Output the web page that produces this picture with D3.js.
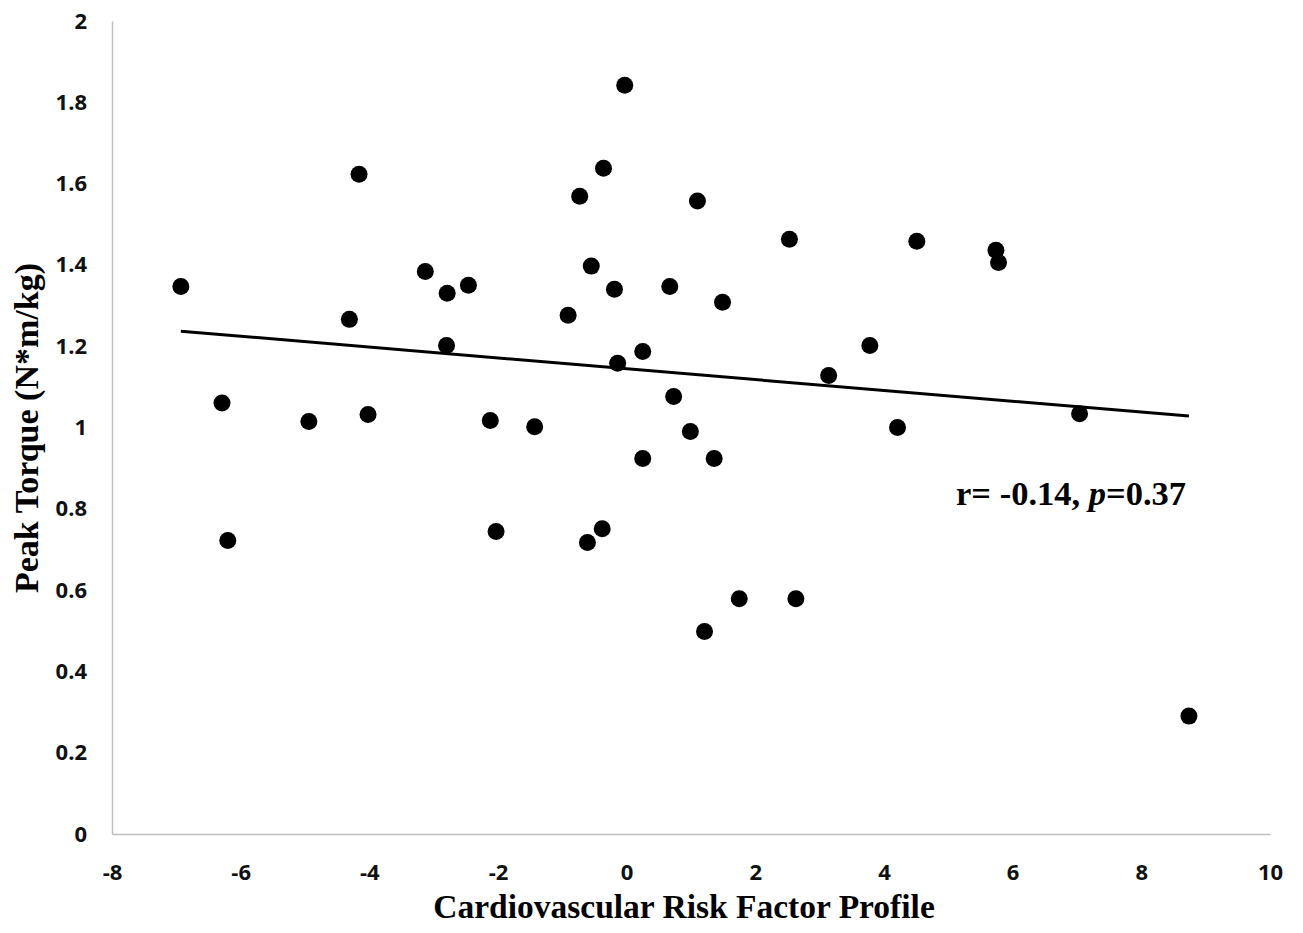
<!DOCTYPE html>
<html>
<head>
<meta charset="utf-8">
<script src="https://cdn.jsdelivr.net/npm/d3@7"></script>
<style>
  html, body { margin: 0; padding: 0; background: #fff; }
  svg { display: block; }
</style>
</head>
<body>
<svg id="chart" width="1303" height="933"></svg>
<script>
// ---- Data ----
const riskProfile = [
  -6.93, -6.29, -6.20, -4.94, -4.16, -4.31, -4.02, -3.13, -2.79, -2.80,
  -2.46, -2.12, -2.03, -1.43, -0.91, -0.73, -0.55, -0.61, -0.38, -0.36,
  -0.19, -0.14, -0.03, 0.25, 0.25, 0.67, 0.73, 0.99, 1.10, 1.21,
  1.36, 1.49, 1.75, 2.53, 2.63, 3.14, 3.78, 4.21, 4.51, 5.74,
  5.78, 7.04, 8.74
];
const peakTorque = [
  1.347, 1.060, 0.722, 1.015, 1.623, 1.266, 1.032, 1.384, 1.330, 1.202,
  1.350, 1.017, 0.744, 1.002, 1.276, 1.569, 1.397, 0.717, 0.751, 1.638,
  1.340, 1.158, 1.842, 1.187, 0.924, 1.347, 1.076, 0.990, 1.557, 0.498,
  0.924, 1.308, 0.579, 1.463, 0.579, 1.128, 1.202, 1.000, 1.458, 1.436,
  1.406, 1.034, 0.290
];
const trendX = [-6.93, 8.74];
const trendY = [1.237, 1.028];
const xTicks = [-8, -6, -4, -2, 0, 2, 4, 6, 8, 10];
const xTickLabels = ["-8", "-6", "-4", "-2", "0", "2", "4", "6", "8", "10"];
const yTicks = [0, 0.2, 0.4, 0.6, 0.8, 1, 1.2, 1.4, 1.6, 1.8, 2];
const yTickLabels = ["0", "0.2", "0.4", "0.6", "0.8", "1", "1.2", "1.4", "1.6", "1.8", "2"];
const xTitle = "Cardiovascular Risk Factor Profile";
const yTitle = "Peak Torque (N*m/kg)";

// ---- Scales ----
const svg = d3.select("#chart");
const x = d3.scaleLinear().domain([-8, 10]).range([112, 1270]);
const y = d3.scaleLinear().domain([0, 2]).range([834, 21]);

const tickFont = "'Open Sans', 'Liberation Sans', sans-serif";
const titleFont = "'Liberation Serif', 'Times New Roman', serif";

// ---- Axes ----
const xAxis = svg.append("g")
  .attr("transform", `translate(0,${y(0)})`)
  .call(d3.axisBottom(x).tickValues(xTicks)
    .tickFormat((d, i) => xTickLabels[i]).tickSize(0).tickSizeOuter(0).tickPadding(30));
xAxis.select(".domain").attr("stroke", "#bfbfbf").attr("stroke-width", 1.5);
xAxis.selectAll("text")
  .attr("font-family", tickFont).attr("font-weight", "bold")
  .attr("font-size", 22).attr("fill", "#111");

const yAxis = svg.append("g")
  .attr("transform", `translate(${x(-8)},0)`)
  .call(d3.axisLeft(y).tickValues(yTicks)
    .tickFormat((d, i) => yTickLabels[i]).tickSize(0).tickSizeOuter(0).tickPadding(25));
yAxis.select(".domain").attr("stroke", "#bfbfbf").attr("stroke-width", 1.5);
yAxis.selectAll("text")
  .attr("font-family", tickFont).attr("font-weight", "bold")
  .attr("font-size", 22).attr("fill", "#111");

// ---- Trend line ----
svg.append("path")
  .datum(trendX.map((v, i) => [v, trendY[i]]))
  .attr("fill", "none").attr("stroke", "#000").attr("stroke-width", 3)
  .attr("d", d3.line().x(d => x(d[0])).y(d => y(d[1])));

// ---- Points ----
svg.append("g").selectAll("circle")
  .data(riskProfile.map((v, i) => [v, peakTorque[i]]))
  .join("circle")
  .attr("cx", d => x(d[0])).attr("cy", d => y(d[1]))
  .attr("r", 8.5).attr("fill", "#000");

// ---- Titles ----
svg.append("text")
  .attr("x", 684).attr("y", 918)
  .attr("text-anchor", "middle")
  .attr("font-family", titleFont).attr("font-weight", "bold")
  .attr("font-size", 33.5).attr("fill", "#000")
  .text(xTitle);

svg.append("text")
  .attr("transform", "translate(38,428) rotate(-90)")
  .attr("text-anchor", "middle")
  .attr("font-family", titleFont).attr("font-weight", "bold")
  .attr("font-size", 34).attr("fill", "#000")
  .text(yTitle);

// ---- Annotation ----
const ann = svg.append("text")
  .attr("x", x(5.12)).attr("y", y(0.81))
  .attr("font-family", titleFont).attr("font-weight", "bold")
  .attr("font-size", 34.5).attr("fill", "#000");
ann.append("tspan").text("r= -0.14, ");
ann.append("tspan").attr("font-style", "italic").text("p");
ann.append("tspan").text("=0.37");
</script>
</body>
</html>
